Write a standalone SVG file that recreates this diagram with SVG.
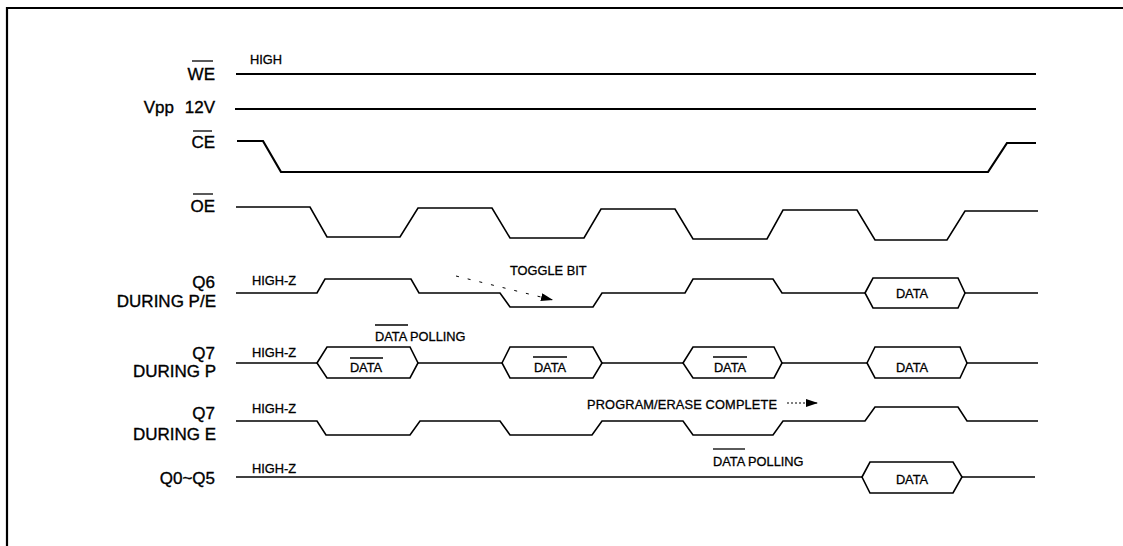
<svg xmlns="http://www.w3.org/2000/svg" width="1123" height="546" viewBox="0 0 1123 546">
<style>
.lbl{font-family:"Liberation Sans",Arial,sans-serif;font-size:17px;fill:#000;stroke:#000;stroke-width:0.35;text-anchor:end}
.sm{font-family:"Liberation Sans",Arial,sans-serif;font-size:12.8px;fill:#000;stroke:#000;stroke-width:0.3}
.ctr{text-anchor:middle}
.w{fill:none;stroke:#000;stroke-width:1.6;stroke-linejoin:miter}
.wt{fill:none;stroke:#000;stroke-width:2.2}
.ov{stroke:#000;stroke-width:1.3}
.frame{fill:none;stroke:#000;stroke-width:2.2}
</style>
<defs>
<marker id="ah" viewBox="0 0 12 8" refX="12" refY="4" markerWidth="12" markerHeight="8" markerUnits="userSpaceOnUse" orient="auto">
<path d="M0,0 L12,4 L0,8 Z" fill="#000"/>
</marker>
</defs>
<rect width="1123" height="546" fill="#fff"/>
<path class="frame" d="M7,546 L7,8 L1123,8"/>

<g id="sig-we">
<text class="lbl" x="215" y="80">WE</text>
<line class="ov" x1="192" y1="61" x2="213" y2="61"/>
<text class="sm" x="250" y="64">HIGH</text>
<line class="wt" x1="236" y1="74" x2="1036" y2="74"/>
</g>

<g id="sig-vpp">
<text class="lbl" x="174" y="113">Vpp</text>
<text class="lbl" x="215" y="113">12V</text>
<line class="wt" x1="235" y1="109" x2="1036" y2="109"/>
</g>

<g id="sig-ce">
<text class="lbl" x="215" y="148">CE</text>
<line class="ov" x1="193" y1="131" x2="212" y2="131"/>
<path class="wt" d="M237,141 L263,141 L281,172 L988,172 L1007,143 L1036,143"/>
</g>

<g id="sig-oe">
<text class="lbl" x="215" y="212">OE</text>
<line class="ov" x1="193" y1="194" x2="213" y2="194"/>
<path class="w" d="M236,207 L310,207 L327,237 L400,237 L418,208 L492,208 L510,238 L584,238 L601,209 L675,209 L693,239 L767,239 L783,210 L857,210 L875,240 L947,240 L965,211 L1038,211"/>
</g>

<g id="sig-q6">
<text class="lbl" x="215" y="288">Q6</text>
<text class="lbl" x="216" y="307">DURING P/E</text>
<text class="sm" x="252" y="285">HIGH-Z</text>
<path class="w" d="M236,293 L317,293 L325,279 L411,279 L419,293 L500,293 L510,307 L593,307 L602,293 L685,293 L693,279 L773,279 L782,293 L865,293"/>
<path class="w" d="M865,293 L873,278 L958,278 L965,293 L958,308 L873,308 Z"/>
<line class="w" x1="965" y1="293" x2="1038" y2="293"/>
<text class="sm ctr" x="912" y="298">DATA</text>
<text class="sm" x="510" y="275">TOGGLE BIT</text>
</g>

<g id="sig-q7p">
<text class="lbl" x="215" y="359">Q7</text>
<text class="lbl" x="216" y="377">DURING P</text>
<text class="sm" x="252" y="357">HIGH-Z</text>
<text class="sm" x="375" y="341">DATA POLLING</text>
<line class="ov" x1="375" y1="325" x2="408" y2="325"/>
<line class="w" x1="236" y1="363" x2="317" y2="363"/>
<path class="w" d="M317,363 L327,347 L410,347 L418,363 L410,378 L327,378 Z"/>
<line class="w" x1="418" y1="363" x2="502" y2="363"/>
<path class="w" d="M502,363 L510,347 L593,347 L602,363 L593,378 L510,378 Z"/>
<line class="w" x1="602" y1="363" x2="683" y2="363"/>
<path class="w" d="M683,363 L693,347 L774,347 L782,363 L774,378 L693,378 Z"/>
<line class="w" x1="782" y1="363" x2="867" y2="363"/>
<path class="w" d="M867,363 L875,347 L960,347 L967,363 L960,378 L875,378 Z"/>
<line class="w" x1="967" y1="363" x2="1038" y2="363"/>
<text class="sm ctr" x="366" y="372">DATA</text>
<line class="ov" x1="350" y1="358" x2="383" y2="358"/>
<text class="sm ctr" x="550" y="372">DATA</text>
<line class="ov" x1="533" y1="357" x2="567" y2="357"/>
<text class="sm ctr" x="730" y="372">DATA</text>
<line class="ov" x1="713" y1="357" x2="747" y2="357"/>
<text class="sm ctr" x="912" y="372">DATA</text>
</g>

<g id="sig-q7e">
<text class="lbl" x="215" y="419">Q7</text>
<text class="lbl" x="216" y="440">DURING E</text>
<text class="sm" x="252" y="413">HIGH-Z</text>
<path class="w" d="M236,421 L317,421 L326,435 L410,435 L420,421 L500,421 L510,435 L592,435 L602,421 L683,421 L693,435 L773,435 L783,421 L865,421 L875,407 L958,407 L967,421 L1038,421"/>
<text class="sm" x="587" y="409" textLength="190" lengthAdjust="spacing">PROGRAM/ERASE COMPLETE</text>
</g>

<g id="sig-q0q5">
<text class="lbl" x="215" y="484">Q0~Q5</text>
<text class="sm" x="252" y="473">HIGH-Z</text>
<text class="sm" x="713" y="466">DATA POLLING</text>
<line class="ov" x1="713" y1="449" x2="745" y2="449"/>
<line class="w" x1="236" y1="477" x2="862" y2="477"/>
<path class="w" d="M862,477 L870,462 L953,462 L962,477 L953,493 L870,493 Z"/>
<line class="w" x1="962" y1="477" x2="1035" y2="477"/>
<text class="sm ctr" x="912" y="484">DATA</text>
</g>

<g id="connectors">
<line x1="456" y1="276" x2="553" y2="300" stroke="#000" stroke-width="1" stroke-dasharray="3,9" marker-end="url(#ah)"/>
<line x1="787" y1="403" x2="818" y2="403" stroke="#000" stroke-width="1" stroke-dasharray="2,2" marker-end="url(#ah)"/>
</g>
</svg>
